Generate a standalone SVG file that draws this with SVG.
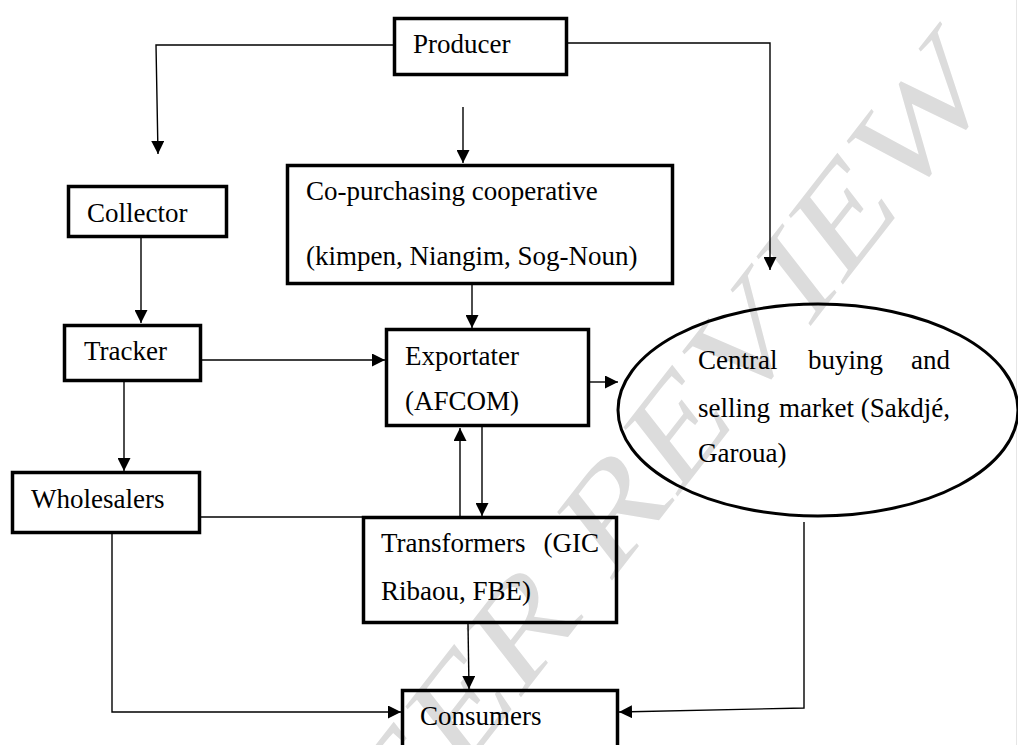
<svg xmlns="http://www.w3.org/2000/svg" width="1018" height="745" viewBox="0 0 1018 745">
<style>
.box{fill:none;stroke:#000;stroke-width:3.5}
.lbl{font-family:"Liberation Serif","Times New Roman",serif;font-size:27px;fill:#000}
.con{fill:none;stroke:#000;stroke-width:1.4}
.wm{font-family:"Liberation Serif","Times New Roman",serif;font-size:150px;fill:#dcdcdc}
</style>
<defs>
<marker id="ah" markerUnits="userSpaceOnUse" markerWidth="13" markerHeight="13" refX="13" refY="6.5" orient="auto">
<path d="M0,0 L13,6.5 L0,13 z" fill="#000"/>
</marker>
</defs>
<rect x="0" y="0" width="1018" height="745" fill="#fff"/>
<line x1="1016.5" y1="0" x2="1016.5" y2="745" stroke="#e6e6e6" stroke-width="1"/>
<text class="wm" transform="translate(341,928) scale(0.78,1) rotate(-45) scale(1.2,1)">PEER REVIEW</text>

<g id="connectors">
<path class="con" d="M393,45 L156,45 L158,154" marker-end="url(#ah)"/>
<path class="con" d="M463,107 L463,163" marker-end="url(#ah)"/>
<path class="con" d="M568,43 L770,43 L770,270" marker-end="url(#ah)"/>
<path class="con" d="M472,285 L472,328" marker-end="url(#ah)"/>
<path class="con" d="M141,238 L141,323" marker-end="url(#ah)"/>
<path class="con" d="M202,360 L385,360" marker-end="url(#ah)"/>
<path class="con" d="M124,382 L124,471" marker-end="url(#ah)"/>
<path class="con" d="M590,382 L618,382" marker-end="url(#ah)"/>
<path class="con" d="M460,516 L460,428" marker-end="url(#ah)"/>
<path class="con" d="M482,427 L482,516" marker-end="url(#ah)"/>
<path class="con" d="M201,517 L362,517"/>
<path class="con" d="M112,534 L112,712 L401,712" marker-end="url(#ah)"/>
<path class="con" d="M468,624 L469,689" marker-end="url(#ah)"/>
<path class="con" d="M804,522 L804,708 L619,712" marker-end="url(#ah)"/>
</g>

<g id="producer">
<rect class="box" x="394.5" y="18.5" width="172" height="56"/>
<text class="lbl" x="413" y="53">Producer</text>
</g>
<g id="collector">
<rect class="box" x="68.5" y="186.5" width="158" height="50"/>
<text class="lbl" x="87" y="222">Collector</text>
</g>
<g id="copurchasing">
<rect class="box" x="287.5" y="165.5" width="385" height="118"/>
<text class="lbl" x="306" y="200">Co-purchasing cooperative</text>
<text class="lbl" x="306" y="265">(kimpen, Niangim, Sog-Noun)</text>
</g>
<g id="tracker">
<rect class="box" x="64.5" y="325.5" width="136" height="55"/>
<text class="lbl" x="84" y="360">Tracker</text>
</g>
<g id="exportater">
<rect class="box" x="386.5" y="329.5" width="202" height="96"/>
<text class="lbl" x="405" y="365">Exportater</text>
<text class="lbl" x="405" y="410">(AFCOM)</text>
</g>
<g id="central">
<ellipse cx="818" cy="410" rx="200" ry="106" fill="none" stroke="#000" stroke-width="3"/>
<text class="lbl" y="369"><tspan x="698">Central</tspan><tspan x="808">buying</tspan><tspan x="950" text-anchor="end">and</tspan></text>
<text class="lbl" y="417"><tspan x="698">selling</tspan><tspan x="779">market</tspan><tspan x="950" text-anchor="end">(Sakdjé,</tspan></text>
<text class="lbl" x="698" y="462">Garoua)</text>
</g>
<g id="wholesalers">
<rect class="box" x="12.5" y="472.5" width="187" height="60"/>
<text class="lbl" x="31" y="508">Wholesalers</text>
</g>
<g id="transformers">
<rect class="box" x="363.5" y="517.5" width="253" height="105"/>
<text class="lbl" y="552"><tspan x="381">Transformers</tspan><tspan x="599" text-anchor="end">(GIC</tspan></text>
<text class="lbl" x="381" y="600">Ribaou, FBE)</text>
</g>
<g id="consumers">
<rect class="box" x="402.5" y="690.5" width="215" height="80"/>
<text class="lbl" x="420" y="725">Consumers</text>
</g>
</svg>
